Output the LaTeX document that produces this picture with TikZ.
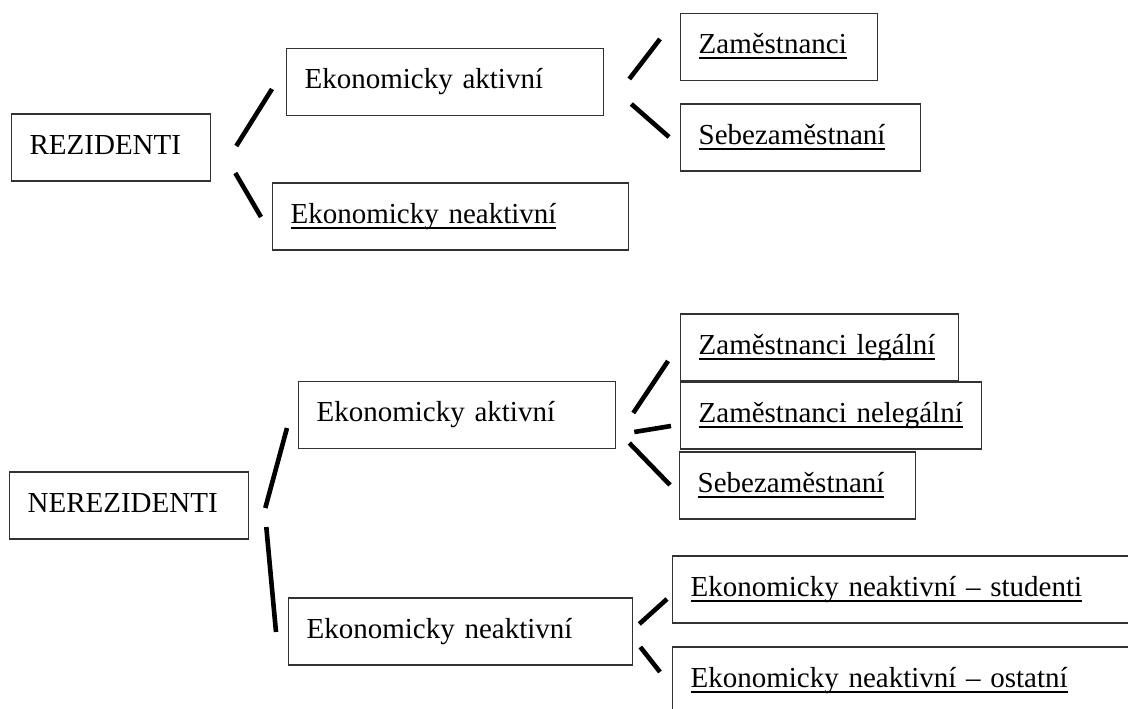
\documentclass[tikz,border=0pt]{standalone}
\usepackage{fontspec}
\setmainfont{Liberation Serif}
\usetikzlibrary{positioning}
\definecolor{box_out}{RGB}{50, 50, 50}
\newcommand\hgt{67pt}
\newcommand\pad{18pt}
\newcommand\undl[1]{\setbox0=\hbox{#1}\rlap{\rule[-6pt]{\wd0}{2.2pt}}\box0}
\tikzset{box/.style = {draw=box_out, line width=1.3pt, anchor=west, align=left, inner xsep=\pad, inner ysep=20pt, text height=20pt, text depth=7pt, minimum height=\hgt, font=\fontsize{29}{34}\selectfont}}
\tikzset{link/.style = {line width=4.6pt, black}}

\begin{document}
\begin{tikzpicture}[x=1pt,y=-1pt]
\clip (0,0) rectangle (1128,709);

% residents
\node[box, text width=163pt] (rez) at (11,147.5) {REZIDENTI};
\node[box, text width=281pt] (akt1) at (286,82) {Ekonomicky aktivní};
\node[box, text width=320pt] (neakt1) at (272,216.5) {\undl{Ekonomicky neaktivní}};
\node[box, text width=161pt] (zam1) at (680,47) {\undl{Zaměstnanci}};
\node[box, text width=204pt] (sebe1) at (680,137.5) {\undl{Sebezaměstnaní}};

% non-residents
\node[box, text width=203pt] (nerez) at (9,505.5) {NEREZIDENTI};
\node[box, text width=281pt] (akt2) at (298,415) {Ekonomicky aktivní};
\node[box, text width=308pt] (neakt2) at (288,631.5) {Ekonomicky neaktivní};
\node[box, text width=242pt] (zamleg) at (680,347.5) {\undl{Zaměstnanci legální}};
\node[box, text width=265pt] (zamneleg) at (680,415.5) {\undl{Zaměstnanci nelegální}};
\node[box, text width=200pt] (sebe2) at (679,485.5) {\undl{Sebezaměstnaní}};
\node[box, text width=434pt] (stud) at (672,589.5) {\undl{Ekonomicky neaktivní -- studenti}};
\node[box, text width=434pt] (ost) at (672,680.5) {\undl{Ekonomicky neaktivní -- ostatní}};

\draw[link] ([shift={(25,-1.5)}]rez.east) -- ([shift={(-14,7)}]akt1.west);
\draw[link] ([shift={(24,25.5)}]rez.east) -- ([shift={(-11,0.5)}]neakt1.west);
\draw[link] ([shift={(25,-3)}]akt1.east) -- ([shift={(-20,-8)}]zam1.west);
\draw[link] ([shift={(27,22)}]akt1.east) -- ([shift={(-11,-0.5)}]sebe1.west);

\draw[link] ([shift={(16,2.5)}]nerez.east) -- ([shift={(-11,13)}]akt2.west);
\draw[link] ([shift={(17,21.5)}]nerez.east) -- ([shift={(-12,0.5)}]neakt2.west);
\draw[link] ([shift={(17,-2)}]akt2.east) -- ([shift={(-12,13.5)}]zamleg.west);
\draw[link] ([shift={(18,17)}]akt2.east) -- ([shift={(-9,10.5)}]zamneleg.west);
\draw[link] ([shift={(13,28)}]akt2.east) -- ([shift={(-9,-0.5)}]sebe2.west);
\draw[link] ([shift={(6,-7.5)}]neakt2.east) -- ([shift={(-5,9.5)}]stud.west);
\draw[link] ([shift={(7,15.5)}]neakt2.east) -- ([shift={(-12,-8.5)}]ost.west);
\end{tikzpicture}
\end{document}
